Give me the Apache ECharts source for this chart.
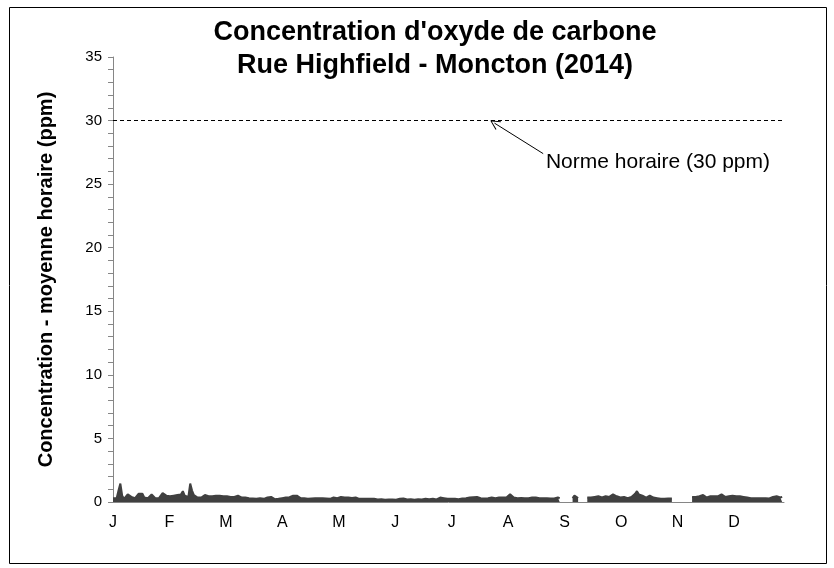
<!DOCTYPE html>
<html>
<head>
<meta charset="utf-8">
<script src="https://cdn.jsdelivr.net/npm/echarts@6/dist/echarts.min.js"></script>
<style>
  html, body { margin: 0; padding: 0; background: #fff; }
  #chart { width: 834px; height: 568px; }
</style>
</head>
<body>
<div id="chart"></div>
<script>
// daily peak of hourly CO (ppm); null = no data
var JAN = [0.3, 0.45, 0.3, 0.9, 1.45, 0.5, 0.25, 0.3, 0.6, 0.75, 0.4, 0.35, 0.3, 0.45, 0.65, 0.5, 0.65, 0.35, 0.3, 0.3, 0.35, 0.6, 0.55, 0.3, 0.35, 0.3, 0.4, 0.7, 0.75, 0.5, 0.4];
var FEB = [0.45, 0.4, 0.5, 0.35, 0.55, 0.4, 0.6, 0.85, 0.5, 0.45, 0.4, 1.45, 0.9, 0.55, 0.5, 0.35, 0.3, 0.35, 0.3, 0.55, 0.6, 0.45, 0.5, 0.45, 0.6, 0.5, 0.45, 0.5];
var MAR = [0.5, 0.45, 0.4, 0.45, 0.45, 0.4, 0.45, 0.4, 0.35, 0.5, 0.4, 0.35, 0.4, 0.35, 0.38, 0.3, 0.3, 0.28, 0.3, 0.25, 0.28, 0.3, 0.25, 0.25, 0.28, 0.35, 0.5, 0.4, 0.25, 0.22, 0.25];
var APR = [0.25, 0.35, 0.3, 0.4, 0.35, 0.3, 0.38, 0.4, 0.5, 0.45, 0.5, 0.35, 0.3, 0.28, 0.3, 0.3, 0.25, 0.3, 0.28, 0.35, 0.3, 0.38, 0.3, 0.35, 0.3, 0.3, 0.28, 0.3, 0.25, 0.3];
var MAY = [0.35, 0.4, 0.3, 0.38, 0.4, 0.3, 0.35, 0.3, 0.35, 0.3, 0.32, 0.3, 0.35, 0.28, 0.25, 0.22, 0.25, 0.22, 0.25, 0.2, 0.25, 0.22, 0.25, 0.22, 0.2, 0.2, 0.22, 0.2, 0.18, 0.2, 0.2];
var JUN = [0.18, 0.2, 0.2, 0.18, 0.2, 0.25, 0.3, 0.28, 0.22, 0.2, 0.2, 0.22, 0.2, 0.18, 0.2, 0.22, 0.2, 0.2, 0.22, 0.25, 0.2, 0.22, 0.2, 0.25, 0.22, 0.2, 0.25, 0.35, 0.4, 0.3];
var JUL = [0.25, 0.25, 0.22, 0.25, 0.22, 0.25, 0.28, 0.22, 0.25, 0.28, 0.25, 0.3, 0.28, 0.35, 0.3, 0.38, 0.3, 0.4, 0.35, 0.3, 0.32, 0.28, 0.35, 0.3, 0.28, 0.35, 0.3, 0.3, 0.4, 0.35, 0.42];
var AUG = [0.35, 0.4, 0.35, 0.45, 0.6, 0.45, 0.35, 0.38, 0.3, 0.35, 0.32, 0.38, 0.3, 0.35, 0.3, 0.4, 0.35, 0.42, 0.35, 0.4, 0.3, 0.35, 0.3, 0.32, 0.3, 0.35, 0.28, 0.3, 0.28, 0.4, 0.35];
var SEP = [0.3, null, null, null, null, null, null, 0.3, 0.5, 0.45, 0.3, null, null, null, null, 0.35, 0.4, 0.35, 0.3, 0.4, 0.35, 0.45, 0.4, 0.35, 0.4, 0.45, 0.35, 0.4, 0.55, 0.6];
var OCT = [0.5, 0.45, 0.35, 0.35, 0.3, 0.4, 0.35, 0.3, 0.35, 0.4, 0.45, 0.65, 0.85, 0.6, 0.45, 0.5, 0.4, 0.35, 0.3, 0.5, 0.45, 0.35, 0.3, 0.3, 0.28, 0.25, 0.28, 0.25, 0.3, 0.28, 0.25];
var NOV = [0.28, null, null, null, null, null, null, null, null, null, null, 0.4, 0.45, 0.4, 0.35, 0.45, 0.6, 0.55, 0.4, 0.35, 0.4, 0.45, 0.4, 0.45, 0.4, 0.45, 0.55, 0.6, 0.45, 0.4];
var DEC = [0.55, 0.45, 0.6, 0.5, 0.55, 0.45, 0.5, 0.45, 0.5, 0.4, 0.45, 0.35, 0.3, 0.3, 0.28, 0.3, 0.35, 0.3, 0.28, 0.3, 0.28, 0.3, 0.3, 0.28, 0.3, 0.4, 0.5, 0.45, 0.3, 0.35, 0.4];

var MONTH_LABELS = ['J', 'F', 'M', 'A', 'M', 'J', 'J', 'A', 'S', 'O', 'N', 'D'];
var NORME = 30;
var NORME_TEXT = 'Norme horaire (30 ppm)';

var values = [].concat(JAN, FEB, MAR, APR, MAY, JUN, JUL, AUG, SEP, OCT, NOV, DEC);
var seriesData = values.map(function (v, i) { return [i, v]; });

var labelStep = 30.71;
var font = 'Liberation Sans, Arial, sans-serif';
var chevron = 'path://M0,0 L6,10 L5,10.6 L0,2 L-5,10.6 L-6,10 Z';

var mychart = echarts.init(document.getElementById('chart'));

var option = {
    backgroundColor: '#fff',
    animation: false,
    title: {
        text: "Concentration d'oxyde de carbone\nRue Highfield - Moncton (2014)",
        left: 430,
        textAlign: 'center',
        top: 11,
        textStyle: {
            fontFamily: font,
            fontSize: 27,
            fontWeight: 'bold',
            color: '#000',
            lineHeight: 33
        }
    },
    grid: {
        left: 113,
        right: 50,
        top: 57,
        bottom: 66
    },
    xAxis: {
        type: 'value',
        min: 0,
        max: 365,
        interval: labelStep,
        axisLine: { lineStyle: { color: '#868686' } },
        axisTick: { show: false },
        splitLine: { show: false },
        axisLabel: {
            margin: 13,
            fontFamily: font,
            fontSize: 16,
            color: '#000',
            formatter: function (v) {
                var k = Math.round(v / labelStep);
                if (Math.abs(v - k * labelStep) > 0.01 || k > 11) return '';
                return MONTH_LABELS[k];
            }
        }
    },
    yAxis: {
        type: 'value',
        min: 0,
        max: 35,
        interval: 5,
        name: 'Concentration - moyenne horaire (ppm)',
        nameLocation: 'middle',
        nameGap: 57,
        nameTextStyle: {
            fontFamily: font,
            fontSize: 20,
            fontWeight: 'bold',
            color: '#000'
        },
        axisLine: { show: true, lineStyle: { color: '#868686' } },
        axisTick: { show: true, length: 5, lineStyle: { color: '#868686' } },
        minorTick: { show: true, splitNumber: 5, length: 5, lineStyle: { color: '#868686' } },
        splitLine: { show: false },
        axisLabel: {
            margin: 11,
            fontFamily: font,
            fontSize: 15,
            color: '#000'
        }
    },
    graphic: [{
        type: 'rect',
        shape: { x: 9.5, y: 7.5, width: 817, height: 556 },
        style: { fill: 'none', stroke: '#000', lineWidth: 1 },
        silent: true
    }],
    series: [
        {
            name: 'CO',
            type: 'line',
            data: seriesData,
            showSymbol: false,
            connectNulls: false,
            lineStyle: { color: '#404040', width: 2 },
            areaStyle: { color: '#404040', opacity: 1 },
            markLine: {
                silent: true,
                symbol: 'none',
                label: { show: false },
                lineStyle: { color: '#000', type: [4, 3], width: 1 },
                data: [{ yAxis: NORME }]
            }
        },
        {
            name: 'annotation',
            type: 'line',
            data: [],
            markLine: {
                silent: true,
                symbol: ['none', chevron],
                symbolSize: [10, 10],
                label: { show: false },
                lineStyle: { color: '#000', type: 'solid', width: 1 },
                data: [[{ coord: [234, 27.4] }, { coord: [207.5, 29.8] }]]
            },
            markPoint: {
                silent: true,
                symbol: 'circle',
                symbolSize: 0,
                label: {
                    show: true,
                    position: 'right',
                    distance: 0,
                    formatter: NORME_TEXT,
                    fontFamily: font,
                    fontSize: 21,
                    color: '#000'
                },
                data: [{ coord: [235.5, 26.7] }]
            }
        }
    ]
};

mychart.setOption(option, true);
window.onresize = mychart.resize;
</script>
</body>
</html>
